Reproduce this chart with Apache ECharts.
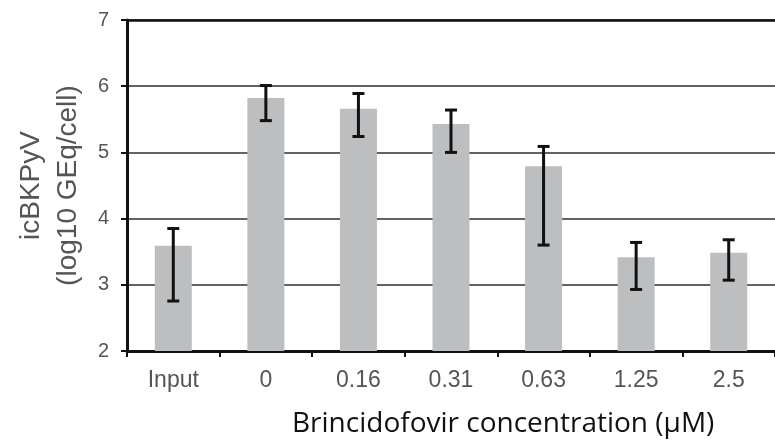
<!DOCTYPE html>
<html>
<head>
<meta charset="utf-8">
<script src="https://cdn.jsdelivr.net/npm/echarts@6/dist/echarts.min.js"></script>
<style>
html,body{margin:0;padding:0;background:#fff;}
#chart{width:775px;height:440px;}
</style>
</head>
<body>
<div id="chart"></div>
<script>
var categories = ['Input', '0', '0.16', '0.31', '0.63', '1.25', '2.5'];
var means = [3.59, 5.82, 5.66, 5.43, 4.79, 3.415, 3.485];
var errLow = [2.755, 5.48, 5.24, 5.00, 3.60, 2.93, 3.07];
var errHigh = [3.85, 6.01, 5.89, 5.64, 5.09, 3.64, 3.68];
var yMin = 2, yMax = 7, yStep = 1;
var yTitle = 'icBKPyV\n(log10 GEq/cell)';
var xTitle = 'Brincidofovir concentration (\u00b5M)';

var errData = categories.map(function (c, i) { return [i, errLow[i], errHigh[i]]; });

var chart = echarts.init(document.getElementById('chart'));
chart.setOption({
  animation: false,
  backgroundColor: '#ffffff',
  grid: { left: 127, top: 20, width: 658, height: 331 },
  xAxis: [{
    type: 'category',
    data: categories,
    boundaryGap: true,
    axisLine: { show: true, lineStyle: { color: '#111', width: 3 } },
    axisTick: { show: true, inside: false, length: 6, alignWithLabel: false, lineStyle: { color: '#111', width: 2 } },
    axisLabel: { margin: 18, fontSize: 23, color: '#555', fontFamily: 'Liberation Sans, Arial, sans-serif' },
    splitLine: { show: false }
  }, {
    type: 'category',
    data: categories,
    position: 'top',
    axisLine: { show: true, lineStyle: { color: '#111', width: 2.5 } },
    axisTick: { show: false },
    axisLabel: { show: false },
    splitLine: { show: false }
  }],
  yAxis: {
    type: 'value',
    min: yMin, max: yMax, interval: yStep,
    axisLine: { show: true, lineStyle: { color: '#111', width: 3 } },
    axisTick: { show: true, inside: false, length: 6, lineStyle: { color: '#111', width: 2 } },
    axisLabel: { margin: 18, fontSize: 20, color: '#555', fontFamily: 'Liberation Sans, Arial, sans-serif' },
    splitLine: { show: true, lineStyle: { color: '#626262', width: 2 } },
    name: yTitle,
    nameLocation: 'middle',
    nameRotate: 90,
    nameGap: 35,
    nameTextStyle: { fontSize: 28, lineHeight: 37, color: '#555', fontFamily: 'Liberation Sans, Arial, sans-serif', align: 'center' }
  },
  graphic: [{
    type: 'text',
    left: 292,
    top: 410,
    style: { text: xTitle, fontSize: 28, fill: '#111', fontFamily: 'Open Sans, sans-serif' }
  }],
  series: [{
    type: 'bar',
    data: means,
    barWidth: 37,
    itemStyle: { color: '#bcbec0' },
    z: 2
  }, {
    type: 'custom',
    data: errData,
    z: 5,
    renderItem: function (params, api) {
      var lo = api.coord([api.value(0), api.value(1)]);
      var hi = api.coord([api.value(0), api.value(2)]);
      var half = 6;
      var st = { stroke: '#111', lineWidth: 3 };
      return {
        type: 'group',
        children: [
          { type: 'line', shape: { x1: hi[0], y1: hi[1], x2: lo[0], y2: lo[1] }, style: st },
          { type: 'line', shape: { x1: hi[0] - half, y1: hi[1], x2: hi[0] + half, y2: hi[1] }, style: st },
          { type: 'line', shape: { x1: lo[0] - half, y1: lo[1], x2: lo[0] + half, y2: lo[1] }, style: st }
        ]
      };
    }
  }]
});
</script>
</body>
</html>
